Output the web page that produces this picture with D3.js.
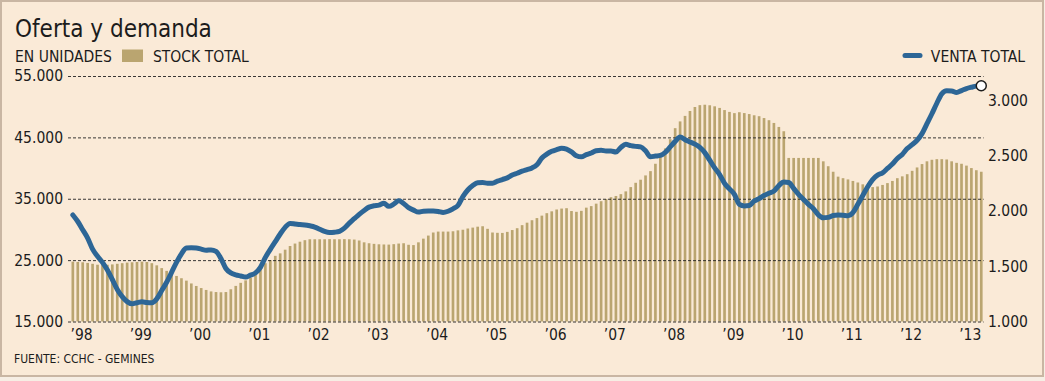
<!DOCTYPE html>
<html>
<head>
<meta charset="utf-8">
<script src="https://cdn.jsdelivr.net/npm/d3@7"></script>
<style>
  body { margin: 0; background: #f6eee4; }
  svg text { font-family: "DejaVu Sans Condensed", "DejaVu Sans", sans-serif; font-stretch: condensed; fill: #1c1c1c; }
</style>
</head>
<body>
<div id="vis"></div>
<script>
// setting constants
const FRAME_WIDTH = 1045;
const FRAME_HEIGHT = 381;
const PLOT = {left: 71.5, right: 982.6, top: 76, bottom: 321.5};

// data: monthly, Jan 1998 .. May 2013
const START_YEAR = 1998;
const yearLabels = ["’98", "’99", "’00", "’01", "’02", "’03", "’04", "’05",
                    "’06", "’07", "’08", "’09", "’10", "’11", "’12", "’13"];

// stock total (units, left axis)
const stock = [
  24750, 24700, 24650, 24550, 24400, 24250, 24200, 24250, 24300, 24400, 24500, 24600,
  24650, 24700, 24750, 24700, 24500, 24150, 23700, 23250, 22850, 22420, 22050, 21660,
  21200, 20790, 20450, 20140, 19900, 19800, 19760, 19800, 20250, 20800, 21300, 21700,
  22100, 22600, 23500, 24500, 25000, 25700, 26100, 26700, 27300, 27700, 28000, 28250,
  28400, 28400, 28400, 28400, 28420, 28400, 28400, 28420, 28400, 28350, 28200, 27900,
  27750, 27650, 27580, 27550, 27530, 27600, 27700, 27750, 27500, 27450, 27900, 28500,
  29000, 29500, 29650, 29650, 29650, 29700, 29850, 29950, 30150, 30300, 30450, 30520,
  30100, 29500, 29450, 29430, 29600, 29900, 30200, 30700, 31100, 31500, 31850, 32250,
  32650, 32950, 33250, 33400, 33460, 33000, 32870, 33030, 33550, 33800, 34200, 34600,
  34950, 35250, 35450, 35750, 36200, 36900, 37600, 38100, 38800, 39500, 40700, 41800,
  43200, 44700, 46500, 47600, 48500, 49300, 49950, 50250, 50320, 50230, 50060, 49800,
  49450, 49150, 48950, 49100, 48960, 48800, 48600, 48450, 48150, 47800, 47350, 46700,
  46000, 41650, 41650, 41650, 41650, 41650, 41650, 41650, 41100, 40300, 39400, 38600,
  38350, 38150, 37900, 37650, 37350, 37050, 36900, 37000, 37250, 37550, 37900, 38350,
  38650, 39000, 39550, 40100, 40650, 41100, 41350, 41450, 41450, 41400, 41100, 40850,
  40700, 40400, 40000, 39650, 39400
];

// venta total (units, right axis)
const venta = [
  1964, 1905, 1830, 1755, 1655, 1590, 1535, 1465, 1380, 1290, 1225, 1180,
  1160, 1170, 1178, 1172, 1170, 1205, 1280, 1355, 1445, 1535, 1612, 1665,
  1668, 1666, 1655, 1645, 1648, 1635, 1570, 1480, 1440, 1422, 1412, 1402,
  1420, 1440, 1490, 1580, 1653, 1722, 1792, 1852, 1888, 1883, 1877, 1874,
  1866, 1855, 1835, 1815, 1805, 1808, 1816, 1845, 1890, 1930, 1970, 2005,
  2035, 2047, 2053, 2070, 2042, 2062, 2092, 2068, 2030, 2008, 1990, 1998,
  2000, 2000, 1996, 1987, 1998, 2020, 2050, 2130, 2190, 2230, 2255, 2257,
  2252, 2252, 2270, 2285, 2300, 2325, 2342, 2360, 2375, 2390, 2418, 2480,
  2515, 2540, 2555, 2568, 2560, 2535, 2500, 2490, 2510, 2525, 2545, 2550,
  2543, 2543, 2534, 2575, 2603, 2592, 2585, 2580, 2545, 2490, 2497, 2503,
  2530, 2580, 2630, 2670, 2645, 2625, 2605, 2575, 2528, 2460, 2390, 2330,
  2250, 2200, 2150, 2060, 2046, 2050, 2090, 2112, 2140, 2160, 2180, 2230,
  2262, 2258, 2205, 2150, 2105, 2060, 2020, 1965, 1938, 1942, 1960, 1964,
  1962, 1958, 1985, 2060, 2140, 2220, 2285, 2325, 2345, 2385, 2425, 2475,
  2512, 2565, 2600, 2640, 2700, 2790, 2880, 2975, 3060, 3088, 3087, 3073,
  3090, 3108, 3120, 3130, 3133
];

const leftTicks = [15000, 25000, 35000, 45000, 55000];
const rightTicks = [1000, 1500, 2000, 2500, 3000];

const months = d3.range(stock.length);

// number format with dot separator
const LOCALE = d3.formatLocale({decimal: ",", thousands: ".", grouping: [3], currency: ["$", ""]});
const FMT = LOCALE.format(",.0f");

// frame
const FRAME = d3.select("#vis")
  .append("svg")
    .attr("width", FRAME_WIDTH)
    .attr("height", FRAME_HEIGHT);

FRAME.append("rect")
    .attr("x", 1)
    .attr("y", 1)
    .attr("width", 1042)
    .attr("height", 375)
    .attr("fill", "#faead7")
    .attr("stroke", "#c9b6a3")
    .attr("stroke-width", 2);

// scales
const X_SCALE = d3.scaleBand()
  .domain(months)
  .range([PLOT.left, PLOT.right])
  .paddingInner(0.46)
  .paddingOuter(0);

const Y_LEFT = d3.scaleLinear()
  .domain([15000, 55000])
  .range([PLOT.bottom, PLOT.top]);

const Y_RIGHT = d3.scaleLinear()
  .domain([1000, 3000])
  .range([PLOT.bottom, 100.5]);

// bars
FRAME.append("g")
  .selectAll("rect")
  .data(stock)
  .enter()
  .append("rect")
    .attr("x", (d, i) => X_SCALE(i))
    .attr("y", (d) => Y_LEFT(d))
    .attr("width", X_SCALE.bandwidth())
    .attr("height", (d) => Y_LEFT(15000) - Y_LEFT(d))
    .attr("fill", "#baa570");

// left axis with dashed gridlines
const leftAxis = FRAME.append("g")
  .attr("transform", "translate(68,0)")
  .call(d3.axisLeft(Y_LEFT)
    .tickValues(leftTicks)
    .tickFormat(FMT)
    .tickSize(-(PLOT.right + 1 - 68))
    .tickPadding(5));
leftAxis.select(".domain").remove();
leftAxis.selectAll("line")
  .attr("stroke", "#222")
  .attr("stroke-width", 0.9)
  .attr("stroke-dasharray", "3,2");
leftAxis.selectAll("text")
  .attr("font-size", "15.5px");

// right axis labels
const rightAxis = FRAME.append("g")
  .attr("transform", "translate(983,0)")
  .call(d3.axisRight(Y_RIGHT)
    .tickValues(rightTicks)
    .tickFormat(FMT)
    .tickSize(0)
    .tickPadding(5));
rightAxis.select(".domain").remove();
rightAxis.selectAll("text")
  .attr("font-size", "15.5px");

// year labels, left aligned at January
const xAxis = FRAME.append("g")
  .attr("transform", "translate(0," + (PLOT.bottom + 3) + ")")
  .call(d3.axisBottom(X_SCALE)
    .tickValues(yearLabels.map((d, k) => k * 12))
    .tickFormat((d) => yearLabels[d / 12])
    .tickSize(0)
    .tickPadding(4));
xAxis.select(".domain").remove();
xAxis.selectAll("text")
  .attr("text-anchor", "start")
  .attr("x", -X_SCALE.bandwidth() / 2 - 1)
  .attr("font-size", "15.5px");

// venta line
const line = d3.line()
  .x((d, i) => X_SCALE(i) + X_SCALE.bandwidth() / 2)
  .y((d) => Y_RIGHT(d))
  .curve(d3.curveMonotoneX);

FRAME.append("path")
  .datum(venta)
  .attr("d", line)
  .attr("fill", "none")
  .attr("stroke", "#2d6696")
  .attr("stroke-width", 5)
  .attr("stroke-linejoin", "round")
  .attr("stroke-linecap", "round");

// end marker
const last = venta.length - 1;
FRAME.append("circle")
  .attr("cx", X_SCALE(last) + X_SCALE.bandwidth() / 2)
  .attr("cy", Y_RIGHT(venta[last]))
  .attr("r", 5)
  .attr("fill", "#fff")
  .attr("stroke", "#1c1c1c")
  .attr("stroke-width", 1.5);

// titles and legends
FRAME.append("text")
  .attr("x", 15)
  .attr("y", 37)
  .attr("font-size", "24px")
  .text("Oferta y demanda");

FRAME.append("text")
  .attr("x", 15)
  .attr("y", 61.5)
  .attr("font-size", "15.5px")
  .text("EN UNIDADES");

FRAME.append("rect")
  .attr("x", 122)
  .attr("y", 49.5)
  .attr("width", 21)
  .attr("height", 12.5)
  .attr("fill", "#baa570");

FRAME.append("text")
  .attr("x", 153)
  .attr("y", 61.5)
  .attr("font-size", "15.5px")
  .text("STOCK TOTAL");

FRAME.append("line")
  .attr("x1", 905)
  .attr("x2", 920)
  .attr("y1", 55.5)
  .attr("y2", 55.5)
  .attr("stroke", "#2d6696")
  .attr("stroke-width", 5)
  .attr("stroke-linecap", "round");

FRAME.append("text")
  .attr("x", 1025)
  .attr("y", 61.5)
  .attr("text-anchor", "end")
  .attr("font-size", "15.5px")
  .text("VENTA TOTAL");

FRAME.append("text")
  .attr("x", 14)
  .attr("y", 363)
  .attr("font-size", "12px")
  .text("FUENTE: CCHC - GEMINES");
</script>
</body>
</html>
